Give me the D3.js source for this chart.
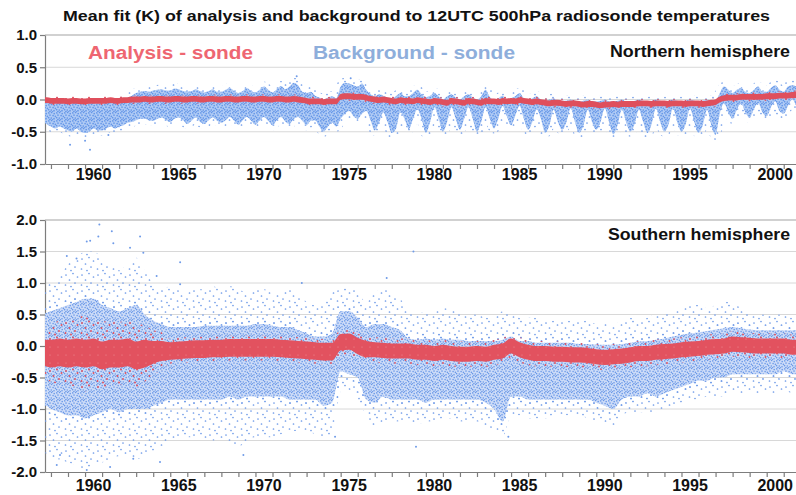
<!DOCTYPE html>
<html>
<head>
<meta charset="utf-8">
<title>Mean fit of analysis and background</title>
<script src="https://cdn.jsdelivr.net/npm/d3@7/dist/d3.min.js"></script>
<style>
  body { margin: 0; background: #fff; }
  svg { display: block; font-family: "Liberation Sans", Arial, Helvetica, sans-serif; }
  .axis path, .axis line { stroke: #7d7d7d; stroke-width: 1.2; }
  .axis text { font-weight: bold; fill: #111; }
  .grid line { stroke: #d8d8d8; }
</style>
</head>
<body>
<div class="container"></div>
<script>

/* ===== DATA ===== */

// sample times: quarterly for the northern panel, half-yearly for the southern one
var nhTimes = d3.range(1957.5, 2002.01, 0.25);
var shTimes = d3.range(1957.5, 2002.01, 0.5);
var yearTicks = d3.range(1958, 2002);
var yearLabels = [1960, 1965, 1970, 1975, 1980, 1985, 1990, 1995, 2000];
var nhTicks = [-1, -0.5, 0, 0.5, 1];
var shTicks = [-2, -1.5, -1, -0.5, 0, 0.5, 1, 1.5, 2];

// Northern hemisphere: analysis - sonde (centre of red band)
var nhAnalysis = [-0.01,-0.01,
  -0.02,-0.02,-0.02,-0.02,  -0.03,-0.02,-0.02,-0.03,  -0.03,-0.02,-0.02,-0.02,  -0.02,-0.02,-0.01,-0.02,
  -0.02,-0.01,-0.01,0.0,    0.0,0.0,0.01,0.0,         0.0,0.01,0.01,0.0,        0.0,0.01,0.01,0.0,
  0.0,0.01,0.01,0.0,        0.0,0.01,0.01,0.0,        0.0,0.01,0.01,0.0,        0.0,0.01,0.01,0.0,
  0.0,0.01,0.01,0.0,        0.0,0.01,0.01,0.0,        0.0,0.01,0.0,-0.01,       -0.02,-0.03,-0.03,-0.03,
  -0.04,-0.03,-0.03,-0.03,  0.04,0.05,0.05,0.04,      0.04,0.04,0.03,0.01,      0.0,-0.01,0.0,-0.01,
  -0.02,-0.03,-0.01,-0.02,  -0.02,-0.03,-0.01,-0.02,  -0.03,-0.04,-0.02,-0.03,  -0.04,-0.05,-0.02,-0.03,
  -0.04,-0.05,-0.02,-0.03,  -0.04,-0.05,-0.02,-0.03,  -0.03,-0.04,-0.02,-0.03,  -0.02,-0.03,-0.01,-0.02,
  -0.03,-0.04,-0.03,-0.04,  -0.05,-0.06,-0.05,-0.05,  -0.06,-0.07,-0.06,-0.06,  -0.07,-0.08,-0.07,-0.07,
  -0.08,-0.09,-0.08,-0.08,  -0.07,-0.08,-0.07,-0.07,  -0.07,-0.07,-0.06,-0.06,  -0.06,-0.07,-0.06,-0.06,
  -0.06,-0.07,-0.06,-0.06,  -0.06,-0.07,-0.06,-0.06,  -0.06,-0.07,-0.06,-0.05,  -0.04,0.0,0.02,0.03,
  0.03,0.03,0.04,0.04,      0.04,0.04,0.04,0.04,      0.05,0.05,0.05,0.06,      0.06,0.06,0.07,0.07,
  0.07];
var nhAnalysisHalf = 0.045;

// Northern hemisphere: background - sonde, upper and lower edge of the dense cloud
var nhBgHi = [0.0,0.0,
  -0.04,-0.05,-0.04,-0.05,  -0.06,-0.06,-0.05,-0.06,  -0.07,-0.06,-0.05,-0.06,  -0.06,-0.05,-0.03,-0.04,
  -0.03,0.0,0.03,0.06,      0.1,0.12,0.13,0.12,       0.14,0.15,0.16,0.14,      0.14,0.17,0.16,0.13,
  0.12,0.13,0.16,0.13,      0.11,0.13,0.16,0.12,      0.12,0.15,0.18,0.13,      0.1,0.13,0.18,0.13,
  0.11,0.15,0.2,0.15,       0.11,0.16,0.21,0.16,      0.2,0.26,0.22,0.12,       0.1,0.12,0.06,0.03,
  0.0,0.03,0.05,0.02,       0.2,0.26,0.25,0.22,       0.2,0.25,0.15,0.08,       0.05,0.08,0.06,0.03,
  0.02,0.05,0.1,0.05,       0.05,0.1,0.15,0.08,       0.04,0.06,0.1,0.05,       0.0,0.05,0.08,0.03,
  0.0,0.05,0.08,0.03,       0.0,0.05,0.15,0.04,       0.0,0.02,0.06,0.0,        0.02,0.05,0.1,0.02,
  0.0,0.02,0.05,0.0,        -0.02,0.0,0.02,-0.02,     -0.02,-0.02,0.0,-0.02,    -0.03,-0.02,0.0,-0.03,
  -0.03,-0.02,0.0,-0.03,    -0.03,-0.02,0.0,-0.03,    -0.03,-0.02,0.0,-0.02,    -0.03,-0.02,0.0,-0.02,
  -0.03,-0.02,0.0,-0.02,    -0.03,-0.02,0.0,-0.02,    -0.03,-0.02,0.0,-0.02,    -0.02,0.1,0.2,0.15,
  0.1,0.15,0.18,0.12,       0.1,0.15,0.2,0.12,        0.12,0.18,0.22,0.15,      0.12,0.2,0.22,0.2,
  0.15];
var nhBgLo = [-0.35,-0.38,
  -0.42,-0.45,-0.42,-0.45,  -0.48,-0.5,-0.45,-0.5,    -0.52,-0.5,-0.45,-0.48,   -0.48,-0.45,-0.42,-0.45,
  -0.42,-0.4,-0.36,-0.35,   -0.32,-0.3,-0.3,-0.32,    -0.33,-0.3,-0.28,-0.32,   -0.35,-0.3,-0.28,-0.32,
  -0.38,-0.33,-0.28,-0.35,  -0.38,-0.32,-0.28,-0.33,  -0.36,-0.32,-0.27,-0.33,  -0.39,-0.32,-0.27,-0.33,
  -0.39,-0.32,-0.27,-0.33,  -0.4,-0.32,-0.27,-0.34,   -0.38,-0.3,-0.27,-0.33,   -0.4,-0.33,-0.32,-0.42,
  -0.5,-0.42,-0.36,-0.42,   -0.3,-0.22,-0.18,-0.26,   -0.3,-0.22,-0.18,-0.32,   -0.48,-0.36,-0.2,-0.35,
  -0.52,-0.45,-0.2,-0.3,    -0.46,-0.3,-0.15,-0.3,    -0.52,-0.35,-0.12,-0.3,   -0.5,-0.35,-0.12,-0.3,
  -0.47,-0.3,-0.12,-0.3,    -0.5,-0.35,-0.12,-0.3,    -0.45,-0.3,-0.1,-0.26,    -0.4,-0.25,-0.1,-0.3,
  -0.47,-0.35,-0.15,-0.3,   -0.52,-0.4,-0.16,-0.35,   -0.47,-0.35,-0.14,-0.35,  -0.52,-0.4,-0.16,-0.35,
  -0.47,-0.35,-0.14,-0.35,  -0.54,-0.4,-0.16,-0.35,   -0.5,-0.38,-0.16,-0.35,   -0.52,-0.38,-0.14,-0.35,
  -0.5,-0.38,-0.14,-0.35,   -0.5,-0.38,-0.14,-0.35,   -0.52,-0.4,-0.16,-0.4,    -0.55,-0.22,-0.06,-0.2,
  -0.3,-0.16,-0.06,-0.2,    -0.28,-0.15,-0.06,-0.2,   -0.26,-0.12,-0.03,-0.18,  -0.22,-0.1,0.0,-0.1,
  -0.15];
var nhOutlierYears = [1959.12, 1960.29, 1960.0, 1961.37, 1972.42, 1975.59];
var nhOutlierVals  = [-0.7, -0.78, -0.64, -0.55, 0.36, 0.33];

// Southern hemisphere: analysis - sonde, centre, half width of dense band, half width of scattered band
var shAnalysis = [-0.1,
  -0.12,-0.1,  -0.12,-0.1,  -0.12,-0.1,  -0.15,-0.12, -0.12,-0.1,  -0.15,-0.12, -0.1,-0.08,
  -0.08,-0.07, -0.06,-0.05, -0.05,-0.04, -0.04,-0.03, -0.03,-0.03, -0.03,-0.03, -0.03,-0.04,
  -0.05,-0.06, -0.07,-0.08, -0.09,-0.09, 0.06,0.07,   0.0,-0.05,   -0.06,-0.07, -0.08,-0.08,
  -0.08,-0.1,  -0.1,-0.12,  -0.1,-0.12,  -0.13,-0.13, -0.12,-0.13, -0.1,-0.08,  0.0,-0.06,
  -0.1,-0.12,  -0.12,-0.13, -0.13,-0.14, -0.14,-0.15, -0.17,-0.18, -0.17,-0.16, -0.14,-0.12,
  -0.12,-0.1,  -0.09,-0.08, -0.06,-0.05, -0.04,-0.02, -0.01,0.0,   0.03,0.02,   0.01,0.0,
  0.0,0.0,     0.0,-0.02,
  -0.02];
var shAnalysisHalf = [0.2,
  0.22,0.22,   0.22,0.22,   0.22,0.22,   0.22,0.22,   0.22,0.22,   0.22,0.22,   0.18,0.16,
  0.14,0.14,   0.14,0.14,   0.14,0.14,   0.14,0.14,   0.14,0.14,   0.14,0.14,   0.14,0.14,
  0.14,0.14,   0.14,0.14,   0.14,0.14,   0.13,0.13,   0.13,0.13,   0.12,0.12,   0.12,0.12,
  0.12,0.12,   0.12,0.12,   0.12,0.12,   0.12,0.12,   0.12,0.12,   0.12,0.12,   0.12,0.12,
  0.12,0.12,   0.12,0.12,   0.12,0.12,   0.12,0.12,   0.12,0.12,   0.12,0.12,   0.12,0.12,
  0.12,0.12,   0.12,0.12,   0.12,0.12,   0.12,0.12,   0.12,0.12,   0.12,0.12,   0.12,0.12,
  0.12,0.12,   0.12,0.12,
  0.12];
var shAnalysisSpread = [0.4,
  0.45,0.5,    0.5,0.55,    0.6,0.55,    0.55,0.5,    0.5,0.5,     0.5,0.45,    0.35,0.3,
  0.2,0.2,     0.2,0.2,     0.2,0.2,     0.2,0.2,     0.2,0.2,     0.2,0.2,     0.2,0.2,
  0.2,0.2,     0.2,0.2,     0.2,0.2,     0.2,0.2,     0.2,0.2,     0.2,0.2,     0.2,0.2,
  0.2,0.2,     0.2,0.2,     0.2,0.2,     0.2,0.2,     0.2,0.2,     0.2,0.2,     0.2,0.2,
  0.2,0.2,     0.2,0.2,     0.2,0.2,     0.2,0.2,     0.2,0.2,     0.2,0.2,     0.2,0.2,
  0.2,0.2,     0.2,0.2,     0.2,0.2,     0.2,0.2,     0.2,0.2,     0.2,0.2,     0.2,0.2,
  0.2,0.2,     0.2,0.2,
  0.2];

// Southern hemisphere: background - sonde, dense core and sparse outer edges
var shBgHi = [0.5,
  0.55,0.6,    0.65,0.7,    0.75,0.75,   0.65,0.6,    0.55,0.6,    0.65,0.5,    0.4,0.35,
  0.3,0.3,     0.3,0.3,     0.32,0.32,   0.32,0.32,   0.32,0.32,   0.35,0.35,   0.32,0.3,
  0.3,0.25,    0.2,0.15,    0.15,0.2,    0.55,0.55,   0.45,0.3,    0.35,0.35,   0.3,0.25,
  0.12,0.1,    0.12,0.1,    0.12,0.1,    0.1,0.08,    0.08,0.08,   0.08,0.1,    0.15,0.08,
  0.08,0.05,   0.05,0.05,   0.05,0.05,   0.03,0.03,   0.02,0.02,   0.02,0.03,   0.05,0.07,
  0.08,0.1,    0.12,0.15,   0.18,0.2,    0.22,0.24,   0.26,0.28,   0.3,0.28,    0.26,0.25,
  0.25,0.25,   0.25,0.25,
  0.25];
var shBgLo = [-0.9,
  -1.0,-1.05,  -1.1,-1.1,   -1.15,-1.1,  -1.05,-1.0,  -1.05,-1.0,  -1.0,-1.0,   -0.95,-0.9,
  -0.85,-0.85, -0.85,-0.85, -0.85,-0.85, -0.85,-0.8,  -0.85,-0.8,  -0.8,-0.8,   -0.8,-0.8,
  -0.85,-0.85, -0.85,-0.85, -0.95,-0.9,  -0.4,-0.45,  -0.5,-0.85,  -0.9,-0.8,   -0.85,-0.85,
  -0.85,-0.85, -0.9,-0.85,  -0.85,-0.85, -0.85,-0.85, -0.85,-0.9,  -1.0,-1.2,   -0.8,-0.8,
  -0.85,-0.85, -0.85,-0.85, -0.85,-0.85, -0.85,-0.85, -0.9,-0.95,  -1.0,-0.85,  -0.8,-0.8,
  -0.75,-0.8,  -0.75,-0.7,  -0.65,-0.6,  -0.55,-0.55, -0.5,-0.5,   -0.45,-0.45, -0.45,-0.45,
  -0.45,-0.45, -0.4,-0.45,
  -0.45];
var shOuterHi = [0.95,
  1.0,1.1,     1.3,1.4,     1.5,1.5,     1.4,1.3,     1.2,1.3,     1.4,1.2,     1.0,0.9,
  0.95,0.9,    0.85,0.9,    0.9,0.95,    0.9,0.95,    0.9,0.85,    0.9,0.9,     0.85,0.85,
  0.95,0.85,   0.7,0.65,    0.7,0.85,    0.9,0.95,    0.85,0.7,    0.85,0.9,    0.85,0.75,
  0.55,0.5,    0.55,0.55,   0.6,0.6,     0.55,0.5,    0.5,0.45,    0.45,0.55,   0.55,0.45,
  0.45,0.45,   0.4,0.4,     0.4,0.4,     0.4,0.4,     0.35,0.35,   0.35,0.4,    0.45,0.4,
  0.45,0.5,    0.5,0.55,    0.6,0.65,    0.65,0.6,    0.65,0.7,    0.7,0.6,     0.55,0.5,
  0.5,0.5,     0.5,0.45,
  0.45];
var shOuterLo = [-1.6,
  -1.8,-1.8,   -1.85,-1.9,  -1.95,-1.9,  -1.85,-1.8,  -1.75,-1.8,  -1.8,-1.75,  -1.7,-1.6,
  -1.5,-1.45,  -1.45,-1.45, -1.5,-1.5,   -1.5,-1.55,  -1.6,-1.5,   -1.45,-1.45, -1.45,-1.4,
  -1.35,-1.35, -1.35,-1.4,  -1.45,-1.4,  -0.65,-0.7,  -0.85,-1.1,  -1.3,-1.2,   -1.2,-1.2,
  -1.2,-1.25,  -1.2,-1.2,   -1.15,-1.15, -1.2,-1.2,   -1.2,-1.3,   -1.3,-1.45,  -1.1,-1.1,
  -1.15,-1.15, -1.15,-1.1,  -1.1,-1.1,   -1.1,-1.15,  -1.2,-1.25,  -1.3,-1.1,   -1.05,-1.05,
  -1.05,-1.05, -1.0,-0.95,  -0.9,-0.85,  -0.85,-0.8,  -0.8,-0.8,   -0.75,-0.75, -0.75,-0.75,
  -0.75,-0.75, -0.7,-0.75,
  -0.75];
var shOutlierYears = [1960.84, 1961.57, 1963.23, 1960.1, 1960.3, 1961.66, 1960.78, 1962.64, 1963.42,
  1965.58, 1965.58, 1972.72, 1977.7, 1964.2, 1958.93, 1959.5, 1979.27, 1958.34, 1960.1, 1958.53,
  1961.47, 1962.83, 1964.4, 1969.29, 1974.67, 1984.84, 1979.42];
var shOutlierVals = [1.93, 1.82, 1.74, 1.66, 1.67, 1.63, 1.74, 1.56, 1.48,
  1.33, 0.98, 1.0, 1.08, 1.11, 1.43, 1.39, 1.5, -1.89, -1.97, -1.73,
  -1.92, -1.79, -1.84, -1.73, -1.44, -1.44, -1.6];

[nhAnalysis, nhBgHi, nhBgLo].forEach(function(a) {
  if (a.length !== nhTimes.length) throw new Error('nh length ' + a.length + ' vs ' + nhTimes.length);
});
[shAnalysis, shAnalysisHalf, shAnalysisSpread, shBgHi, shBgLo, shOuterHi, shOuterLo].forEach(function(a) {
  if (a.length !== shTimes.length) throw new Error('sh length ' + a.length + ' vs ' + shTimes.length);
});

/* ===== SET UP CHART ===== */

var w = 796, h = 495;
var plotLeft = 45, plotRight = 796;

var svg = d3.select('.container')
  .append('svg')
  .attr('width', w)
  .attr('height', h);

var x = d3.scaleLinear().domain([1957.65, 2001.72]).range([plotLeft, plotRight]);
var yN = d3.scaleLinear().domain([-1, 1]).range([164, 35]);
var yS = d3.scaleLinear().domain([-2, 2]).range([472, 220]);

/* --- dot textures for the point clouds --- */
var defs = svg.append('defs');
var texDense = [[0.8,0.9],[3.6,0.4],[6.2,1.6],[2.0,3.1],[5.1,3.6],[7.4,4.4],[0.6,5.6],[3.3,6.0],[6.0,6.7],[1.9,7.6],[4.4,7.9]];
var texSparse = [[2,3],[9,1.5],[13.5,5],[5.5,8],[11,11],[1.5,13],[7,14.5]];

function addPattern(id, size, bg, dots, color, r) {
  var p = defs.append('pattern')
    .attr('id', id)
    .attr('patternUnits', 'userSpaceOnUse')
    .attr('width', size)
    .attr('height', size);
  if (bg) p.append('rect').attr('width', size).attr('height', size).attr('fill', bg);
  p.selectAll('circle')
    .data(dots)
    .enter()
    .append('circle')
    .attr('cx', function(d) { return d[0]; })
    .attr('cy', function(d) { return d[1]; })
    .attr('r', r)
    .attr('fill', color);
}
addPattern('nhCore', 8, '#b0cbf5', texDense, '#6496e8', 0.85);
addPattern('shCore', 8, '#cddcf8', texDense, '#6b99e8', 0.8);
addPattern('blueSparse', 16, null, texSparse, '#6f9be8', 0.85);
addPattern('redSparse', 16, null, texSparse, '#e0505e', 0.95);
addPattern('redDense', 8, '#e2525f', texSparse.slice(0, 2), '#ef8c95', 0.6);

function addClip(id, y) {
  defs.append('clipPath').attr('id', id)
    .append('rect')
    .attr('x', plotLeft)
    .attr('y', y.range()[1])
    .attr('width', plotRight - plotLeft)
    .attr('height', y.range()[0] - y.range()[1]);
}
addClip('clipN', yN);
addClip('clipS', yS);

function band(times, lo, hi, y) {
  return d3.area()
    .x(function(d, i) { return x(times[i]); })
    .y0(function(d, i) { return y(lo[i]); })
    .y1(function(d, i) { return y(hi[i]); })
    .curve(d3.curveMonotoneX)(times);
}

/* --- frame: grid + axes --- */
function frame(y, ticks, yearBaseline) {
  var grid = svg.append('g').attr('class', 'grid');
  grid.selectAll('line')
    .data(ticks.slice(1))
    .enter()
    .append('line')
    .attr('x1', plotLeft)
    .attr('x2', plotRight)
    .attr('y1', function(d) { return y(d); })
    .attr('y2', function(d) { return y(d); })
    .style('stroke', function(d, i) { return i === ticks.length - 2 ? '#c2c2c2' : null; })
    .style('stroke-width', function(d, i) { return i === ticks.length - 2 ? 1.5 : 1; });

  var ya = svg.append('g')
    .attr('class', 'axis')
    .attr('transform', 'translate(' + plotLeft + ',0)')
    .call(d3.axisLeft(y)
      .tickValues(ticks)
      .tickSize(5)
      .tickSizeOuter(0)
      .tickPadding(3)
      .tickFormat(function(d) { return d.toFixed(1); }));
  ya.selectAll('text').style('font-size', '15px').style('font-family', null);

  svg.append('g')
    .attr('class', 'axis')
    .attr('transform', 'translate(0,' + y.range()[0] + ')')
    .call(d3.axisBottom(x)
      .tickValues(yearTicks)
      .tickSize(5)
      .tickSizeOuter(0)
      .tickFormat(''));

  svg.append('g')
    .selectAll('text')
    .data(yearLabels)
    .enter()
    .append('text')
    .attr('x', function(d) { return x(d + 0.5); })
    .attr('y', yearBaseline)
    .attr('text-anchor', 'middle')
    .attr('font-size', '16px')
    .attr('font-weight', 'bold')
    .attr('fill', '#111')
    .text(function(d) { return d; });
}

/* ===== NORTHERN PANEL ===== */
frame(yN, nhTicks, 180);

var gN = svg.append('g').attr('clip-path', 'url(#clipN)');

gN.append('path')
  .attr('d', band(nhTimes, nhBgLo, nhBgHi, yN))
  .attr('fill', 'none')
  .attr('stroke', 'url(#blueSparse)')
  .attr('stroke-width', 10);

gN.append('path')
  .attr('d', band(nhTimes, nhBgLo, nhBgHi, yN))
  .attr('fill', 'url(#nhCore)');

gN.selectAll('circle.out')
  .data(nhOutlierYears)
  .enter()
  .append('circle')
  .attr('class', 'out')
  .attr('cx', function(d) { return x(d); })
  .attr('cy', function(d, i) { return yN(nhOutlierVals[i]); })
  .attr('r', 1)
  .attr('fill', '#6f9be8');

var nhAnLo = nhAnalysis.map(function(v) { return v - nhAnalysisHalf; });
var nhAnHi = nhAnalysis.map(function(v) { return v + nhAnalysisHalf; });

gN.append('path')
  .attr('d', band(nhTimes, nhAnLo, nhAnHi, yN))
  .attr('fill', 'none')
  .attr('stroke', 'url(#redSparse)')
  .attr('stroke-width', 3);

gN.append('path')
  .attr('d', band(nhTimes, nhAnLo, nhAnHi, yN))
  .attr('fill', '#df4f5c');

/* ===== SOUTHERN PANEL ===== */
frame(yS, shTicks, 491);

var gS = svg.append('g').attr('clip-path', 'url(#clipS)');

gS.append('path')
  .attr('d', band(shTimes, shOuterLo, shOuterHi, yS))
  .attr('fill', 'url(#blueSparse)');

gS.append('path')
  .attr('d', band(shTimes, shBgLo, shBgHi, yS))
  .attr('fill', 'none')
  .attr('stroke', 'url(#blueSparse)')
  .attr('stroke-width', 10);

gS.append('path')
  .attr('d', band(shTimes, shBgLo, shBgHi, yS))
  .attr('fill', 'url(#shCore)');

gS.selectAll('circle.out')
  .data(shOutlierYears)
  .enter()
  .append('circle')
  .attr('class', 'out')
  .attr('cx', function(d) { return x(d); })
  .attr('cy', function(d, i) { return yS(shOutlierVals[i]); })
  .attr('r', 1)
  .attr('fill', '#6f9be8');

var shSpreadLo = shAnalysis.map(function(v, i) { return v - shAnalysisSpread[i]; });
var shSpreadHi = shAnalysis.map(function(v, i) { return v + shAnalysisSpread[i]; });
var shAnLo = shAnalysis.map(function(v, i) { return v - shAnalysisHalf[i]; });
var shAnHi = shAnalysis.map(function(v, i) { return v + shAnalysisHalf[i]; });

gS.append('path')
  .attr('d', band(shTimes, shSpreadLo, shSpreadHi, yS))
  .attr('fill', 'url(#redSparse)');

gS.append('path')
  .attr('d', band(shTimes, shAnLo, shAnHi, yS))
  .attr('fill', 'url(#redDense)');

/* ===== LABELS ===== */
svg.append('text')
  .attr('x', 63)
  .attr('y', 21)
  .attr('font-size', '15px')
  .attr('font-weight', 'bold')
  .attr('fill', '#111')
  .attr('textLength', 707)
  .attr('lengthAdjust', 'spacingAndGlyphs')
  .text('Mean fit (K) of analysis and background to 12UTC 500hPa radiosonde temperatures');

svg.append('text')
  .attr('x', 88)
  .attr('y', 59)
  .attr('font-size', '18px')
  .attr('font-weight', 'bold')
  .attr('fill', '#ee6671')
  .attr('textLength', 165)
  .attr('lengthAdjust', 'spacingAndGlyphs')
  .text('Analysis - sonde');

svg.append('text')
  .attr('x', 313)
  .attr('y', 59)
  .attr('font-size', '18px')
  .attr('font-weight', 'bold')
  .attr('fill', '#8eaedb')
  .attr('textLength', 202)
  .attr('lengthAdjust', 'spacingAndGlyphs')
  .text('Background - sonde');

svg.append('text')
  .attr('x', 610)
  .attr('y', 57)
  .attr('font-size', '16px')
  .attr('font-weight', 'bold')
  .attr('fill', '#111')
  .attr('textLength', 180)
  .attr('lengthAdjust', 'spacingAndGlyphs')
  .text('Northern hemisphere');

svg.append('text')
  .attr('x', 608)
  .attr('y', 240)
  .attr('font-size', '16px')
  .attr('font-weight', 'bold')
  .attr('fill', '#111')
  .attr('textLength', 182)
  .attr('lengthAdjust', 'spacingAndGlyphs')
  .text('Southern hemisphere');

</script>
</body>
</html>
